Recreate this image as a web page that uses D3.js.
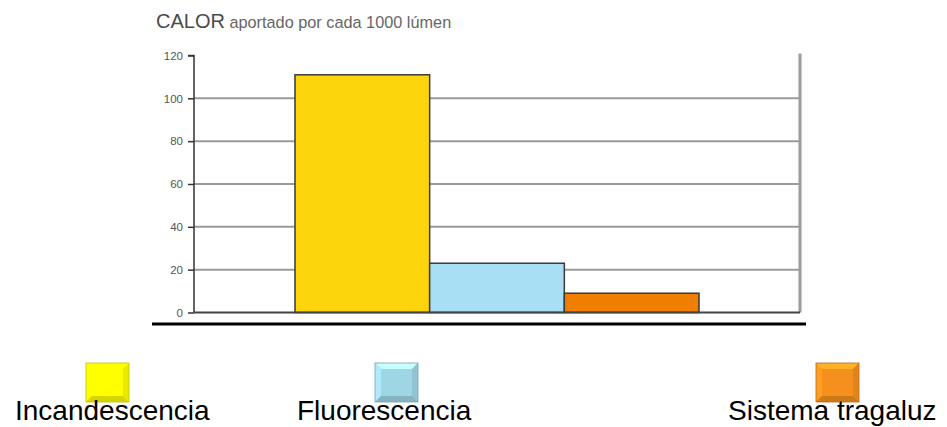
<!DOCTYPE html>
<html>
<head>
<meta charset="utf-8">
<script src="https://cdn.jsdelivr.net/npm/d3@7"></script>
<style>
  html, body { margin: 0; padding: 0; background: #fff; }
  svg { display: block; }
  text { font-family: "Liberation Sans", Arial, Helvetica, sans-serif; }
</style>
</head>
<body>
<svg id="chart" width="947" height="427"></svg>
<script>
const categories = ["Incandescencia", "Fluorescencia", "Sistema tragaluz"];
const values = [111, 23, 9];
const barColors = ["#FDD50C", "#A8DFF5", "#F07F00"];
const legendColors = ["#FFFF00", "#9FD6E6", "#F5901E"];
const yTicks = [0, 20, 40, 60, 80, 100, 120];
const titleMain = "CALOR";
const titleSub = "aportado por cada 1000 lúmen";

const svg = d3.select("#chart");

const x = d3.scaleBand().domain(categories).range([194, 800]).paddingInner(0).paddingOuter(0.75);
const y = d3.scaleLinear().domain([0, 120]).range([312.5, 55.5]);

// title
const t = svg.append("text").attr("x", 156).attr("y", 28);
t.append("tspan").text(titleMain).attr("font-size", 20).attr("fill", "#4a4a4a");
t.append("tspan").text(" " + titleSub).attr("font-size", 16.3).attr("fill", "#666");

// gridlines
svg.append("g").selectAll("line").data(yTicks.filter(d => d > 0 && d < 120)).join("line")
  .attr("x1", x.range()[0]).attr("x2", x.range()[1])
  .attr("y1", d => y(d)).attr("y2", d => y(d))
  .attr("stroke", "#9a9a9a").attr("stroke-width", 2);

// right axis line
svg.append("line")
  .attr("x1", 800).attr("x2", 800).attr("y1", y(120) - 2).attr("y2", y(0))
  .attr("stroke", "#9a9a9a").attr("stroke-width", 3);

// bars
svg.append("g").selectAll("rect").data(values).join("rect")
  .attr("x", (d, i) => x(categories[i]))
  .attr("y", d => y(d))
  .attr("width", x.bandwidth())
  .attr("height", d => y(0) - y(d))
  .attr("fill", (d, i) => barColors[i])
  .attr("stroke", "#3a3a3a").attr("stroke-width", 1.5);

// left axis
const yAxis = d3.axisLeft(y).tickValues(yTicks).tickSize(6).tickPadding(5);
const ga = svg.append("g").attr("transform", "translate(194,0)").call(yAxis);
ga.select(".domain").attr("stroke", "#333").attr("stroke-width", 1.5).attr("d", `M-6,${y(120)}H0V${y(0)}`);
ga.selectAll(".tick line").attr("stroke", "#333").attr("stroke-width", 1.5);
ga.selectAll(".tick text").attr("font-size", 11.5).attr("fill", "#555")
  .attr("font-family", "'Liberation Sans', Arial, sans-serif");

// x baseline
svg.append("line")
  .attr("x1", 194).attr("x2", 800).attr("y1", y(0)).attr("y2", y(0))
  .attr("stroke", "#444").attr("stroke-width", 2);

// thick black line under
svg.append("line")
  .attr("x1", 152).attr("x2", 806).attr("y1", 324).attr("y2", 324)
  .attr("stroke", "#000").attr("stroke-width", 3);

// legend
const legendX = [86, 375, 816];
const legendTextX = [15, 297, 728];
const sq = 43, sqH = 39, sqY = 363, bev = 6;
const lg = svg.append("g");
categories.forEach((c, i) => {
  const g = lg.append("g").attr("transform", `translate(${legendX[i]},${sqY})`);
  const base = d3.color(legendColors[i]);
  const light = base.brighter(0.6);
  const dark = base.darker(0.5);
  const pts = (arr) => arr.map(p => p.join(",")).join(" ");
  g.append("rect").attr("width", sq).attr("height", sqH).attr("fill", base.formatHex());
  g.append("polygon").attr("points", pts([[0,0],[sq,0],[sq-bev,bev],[bev,bev]])).attr("fill", light.formatHex());
  g.append("polygon").attr("points", pts([[0,0],[bev,bev],[bev,sqH-bev],[0,sqH]])).attr("fill", base.brighter(0.25).formatHex());
  g.append("polygon").attr("points", pts([[sq,0],[sq,sqH],[sq-bev,sqH-bev],[sq-bev,bev]])).attr("fill", base.darker(0.25).formatHex());
  g.append("polygon").attr("points", pts([[0,sqH],[bev,sqH-bev],[sq-bev,sqH-bev],[sq,sqH]])).attr("fill", dark.formatHex());
  g.append("rect").attr("width", sq).attr("height", sqH).attr("fill", "none")
    .attr("stroke", base.darker(0.8).formatHex()).attr("stroke-width", 0.8);
  lg.append("text").attr("x", legendTextX[i]).attr("y", 420)
    .attr("font-size", 28).attr("fill", "#000").text(c);
});
</script>
</body>
</html>
